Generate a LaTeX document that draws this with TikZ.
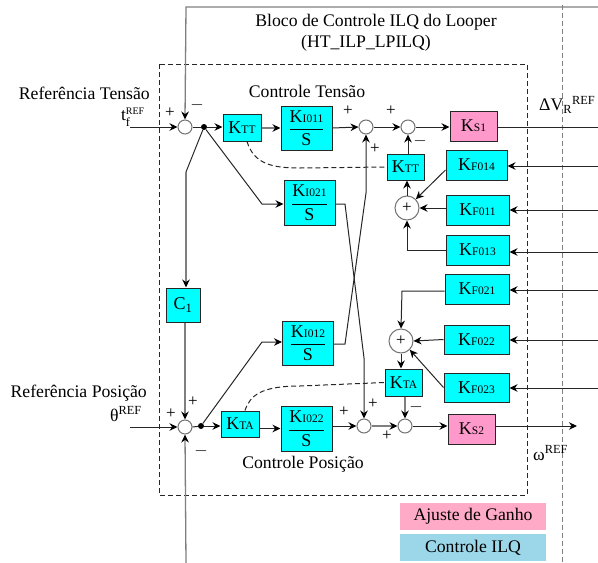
\documentclass[tikz,border=0pt]{standalone}
\usepackage{amsmath}
\usepackage{fontspec}
\setmainfont{Liberation Serif}
\usetikzlibrary{arrows.meta,calc}
\definecolor{ctlcyan}{HTML}{00FFFF}
\definecolor{ganhopink}{HTML}{FF99CC}
\definecolor{legpink}{HTML}{FFABC7}
\definecolor{legblue}{HTML}{9BD7E9}
\definecolor{wiregray}{HTML}{7F7F7F}
\newcommand{\gainK}[2]{K{\fontsize{11.5}{12}\selectfont #1#2}}
\newcommand{\gainI}[1]{$\dfrac{\mbox{K{\fontsize{11.5}{12}\selectfont I#1}}}{\mbox{S}}$}
\tikzset{
  ctrlbox/.style={draw=black!85, line width=1pt, fill=ctlcyan, inner sep=0pt, font=\fontsize{18}{19}\selectfont},
  ganhobox/.style={ctrlbox, fill=ganhopink},
  sumnode/.style={circle, draw=black!55, line width=1pt, fill=white, minimum size=14pt, inner sep=0pt},
  sumbig/.style={sumnode, minimum size=24pt, font=\fontsize{17}{17}\selectfont},
  sig/.style={-{Stealth[length=8pt,width=7.5pt,black]}, line width=1pt, black!85},
  sigg/.style={sig, wiregray, line width=1.3pt},
  wire/.style={line width=1pt, black!85},
  dashy/.style={dash pattern=on 5pt off 3pt, line width=1pt},
  dot/.style={circle, fill=black, minimum size=6pt, inner sep=0pt},
  sgn/.style={font=\fontsize{17}{17}\selectfont, inner sep=0pt},
  lbl/.style={font=\fontsize{17.7}{20}\selectfont, inner sep=0pt}
}
\begin{document}
\begin{tikzpicture}[x=1pt,y=-1pt]
  \useasboundingbox (0,0) rectangle (598,563);

  % Outer frames
  \draw[dashy, black!85] (159,64) rectangle (527,495);
  \draw[dashy, wiregray] (562,5) -- (562,563);

  % Summing points
  \node[sumnode] (sumt) at (185,127) {};
  \node[sumnode] (sumta) at (366,127) {};
  \node[sumnode] (sumtb) at (408,127) {};
  \node[sumbig] (sumtf) at (407,208) {+};
  \node[sumnode] (sump) at (185,427) {};
  \node[sumnode] (sumpa) at (364,426) {};
  \node[sumnode] (sumpb) at (405,426) {};
  \node[sumbig] (sumpf) at (401,341) {+};

  % Gains of the forward path
  \node[ctrlbox, minimum width=38pt, minimum height=27pt] (ktt) at (242,127.5) {\gainK{T}{T}};
  \node[ctrlbox, minimum width=51pt, minimum height=44pt] (ki011) at (306.5,128) {\gainI{011}};
  \node[ctrlbox, minimum width=51pt, minimum height=45pt] (ki021) at (309.5,202.5) {\gainI{021}};
  \node[ctrlbox, minimum width=51pt, minimum height=44pt] (ki012) at (308,343) {\gainI{012}};
  \node[ctrlbox, minimum width=38pt, minimum height=26pt] (kta) at (240,424) {\gainK{T}{A}};
  \node[ctrlbox, minimum width=51pt, minimum height=45pt] (ki022) at (306.5,428.5) {\gainI{022}};
  \node[ctrlbox, minimum width=34pt, minimum height=34pt] (cone) at (183,305) {C\textsubscript{1}};
  \node[ctrlbox, minimum width=37pt, minimum height=26pt] (kttb) at (405.5,167) {\gainK{T}{T}};
  \node[ctrlbox, minimum width=37pt, minimum height=27pt] (ktab) at (403.5,382.5) {\gainK{T}{A}};
  \node[ganhobox, minimum width=47pt, minimum height=30pt] (ksa) at (473.5,126) {\gainK{S}{1}};
  \node[ganhobox, minimum width=47pt, minimum height=30pt] (ksb) at (471.5,429) {\gainK{S}{2}};

  % Feedback gains, with their signal coming in from the right
  \foreach \idx/\xc/\yc/\bw/\bh in {014/476.5/165/61/30, 011/477.5/210/63/30, 013/477.5/250/63/30, 021/477/289/64/30, 022/476.5/339.5/65/29, 023/476.5/387.5/65/29} {
    \node[ctrlbox, minimum width=\bw pt, minimum height=\bh pt] (kf\idx) at (\xc,\yc) {\gainK{F}{\idx}};
  }
  \foreach \idx/\yc in {014/166, 011/210, 013/252, 021/290, 022/340, 023/388} {
    \coordinate (in\idx) at (598,\yc);
    \draw[sig] (in\idx) -- (kf\idx.east |- in\idx);
  }

  % Inputs and outputs
  \coordinate (reft) at (130,127);
  \coordinate (refp) at (130,427);
  \coordinate (outa) at (598,127);
  \coordinate (outb) at (577,426);
  \coordinate (topl) at (186,7);
  \coordinate (topr) at (598,7);
  \coordinate (botl) at (186,563);
  \draw[sigg] (topr) -- (topl) -- (sumt.north);
  \draw[sigg] (botl) -- (sump.south);
  \draw[sig] (reft) -- (sumt.west);
  \draw[sig] (refp) -- (sump.west);
  \draw[wire] (ksa.east |- outa) -- (outa);
  \draw[sig] (ksb.east |- sumpb) -- (outb);

  % Tension loop
  \node[dot] (jt) at (204,127) {};
  \coordinate (jta) at (262,204);
  \coordinate (jtb) at (186,172);
  \draw[wire] (sumt.east) -- (jt);
  \draw[sig] (jt) -- (ktt.west |- jt);
  \draw[sig] (jt) -- (jta) -- (ki021.west |- jta);
  \draw[wire] (jt) -- (jtb);
  \draw[sigg] (jtb) -- (cone.north -| jtb);
  \draw[sigg] (ktt.east |- ki011) -- (ki011.west);
  \draw[sig] (ki011.east) -- (sumta.west);
  \draw[sig] (sumta.east) -- (sumtb.west);
  \draw[sig] (sumtb.east) -- (ksa.west |- sumtb);
  \draw[sig] (kttb.north -| sumtb) -- (sumtb.south);
  \draw[sig] (sumtf.north) -- (kttb.south -| sumtf);
  \draw[dashy, black!85] ([xshift=5pt]ktt.south) .. controls (254,164) and (272,168) .. (300,168) -- (kttb.west);

  % Position loop
  \node[dot] (jp) at (201,426) {};
  \coordinate (jpa) at (262,342);
  \draw[wire] (sump.east) -- (jp);
  \draw[sig] (jp) -- (kta.west |- jp);
  \draw[sig] (jp) -- (jpa) -- (ki012.west |- jpa);
  \draw[sigg] (cone.south -| sump) -- (sump.north);
  \draw[sig] (kta.east |- ki022) -- (ki022.west);
  \draw[sig] (ki022.east |- sumpa) -- (sumpa.west);
  \draw[sigg] (sumpa.east) -- (sumpb.west);
  \draw[sig] (sumpb.east) -- (ksb.west |- sumpb);
  \draw[sig] (sumpf.south) -- (ktab.north -| sumpf);
  \draw[sigg] (ktab.south -| sumpb) -- (sumpb.north);
  \draw[dashy, black!85] ([xshift=5pt]kta.north) .. controls (250,395) and (262,386) .. (300,386) -- (ktab.west);

  % Crossing lines
  \coordinate (xa) at (345,204);
  \coordinate (xb) at (364,358);
  \coordinate (xc) at (345,344);
  \coordinate (xd) at (366,193);
  \draw[sig] (ki021.east |- xa) -- (xa) -- (xb) -- (sumpa.north);
  \draw[sig] (ki012.east |- xc) -- (xc) -- (xd) -- (sumta.south);

  % Into the feedback sums
  \coordinate (fa) at (407,250);
  \coordinate (fb) at (402,291);
  \draw[sig] (kf014.west |- 0,170) -- (sumtf.45);
  \draw[sig] (kf011.west |- sumtf) -- (sumtf.east);
  \draw[sig] (kf013.west |- fa) -- (fa) -- (sumtf.south);
  \draw[sig] (kf021.west |- fb) -- (fb) -- (sumpf.north);
  \draw[sig] (kf022.west) -- (sumpf.east);
  \draw[sig] (kf023.west) -- (sumpf.-45);

  % Signs
  \foreach \sx/\sy/\st in {170/113/+, 197/105/$-$, 348/111/+, 391/111/+, 375/149/+, 420/141/$-$, 171/414/+, 193/402/+, 201/451/$-$, 344/412/+, 373/404/+, 387/436/+, 416/407/$-$} {
    \node[sgn] at (\sx,\sy) {\st};
  }

  % Labels
  \node[lbl] (titlea) at (376,22) {Bloco de Controle ILQ do Looper};
  \node[lbl] (titleb) at (366,43) {(HT\_ILP\_LPILQ)};
  \node[lbl] (ctlt) at (307,91) {Controle Tensão};
  \node[lbl] (ctlp) at (303,464) {Controle Posição};
  \node[lbl, anchor=east] (reftxt) at (150,93) {Referência Tensão};
  \node[lbl, anchor=east] (refttxt) at (145,117) {t$_{\text{f}}^{\text{\fontsize{10}{10}\selectfont REF}}$};
  \node[lbl, anchor=east] (refptxt) at (147,393) {Referência Posição};
  \node[lbl, anchor=east] (thetatxt) at (142,414) {θ\textsuperscript{REF}};
  \node[lbl, anchor=west] (dvtxt) at (539,105) {ΔV\textsubscript{R}\textsuperscript{REF}};
  \node[lbl, anchor=west] (omtxt) at (533,453) {ω\textsuperscript{REF}};

  % Legend
  \node[lbl, fill=legpink, minimum width=146pt, minimum height=27pt] (legganho) at (473,516.5) {Ajuste de Ganho};
  \node[lbl, fill=legblue, minimum width=146pt, minimum height=27pt] (legilq) at (473,547.5) {Controle ILQ};
\end{tikzpicture}
\end{document}
